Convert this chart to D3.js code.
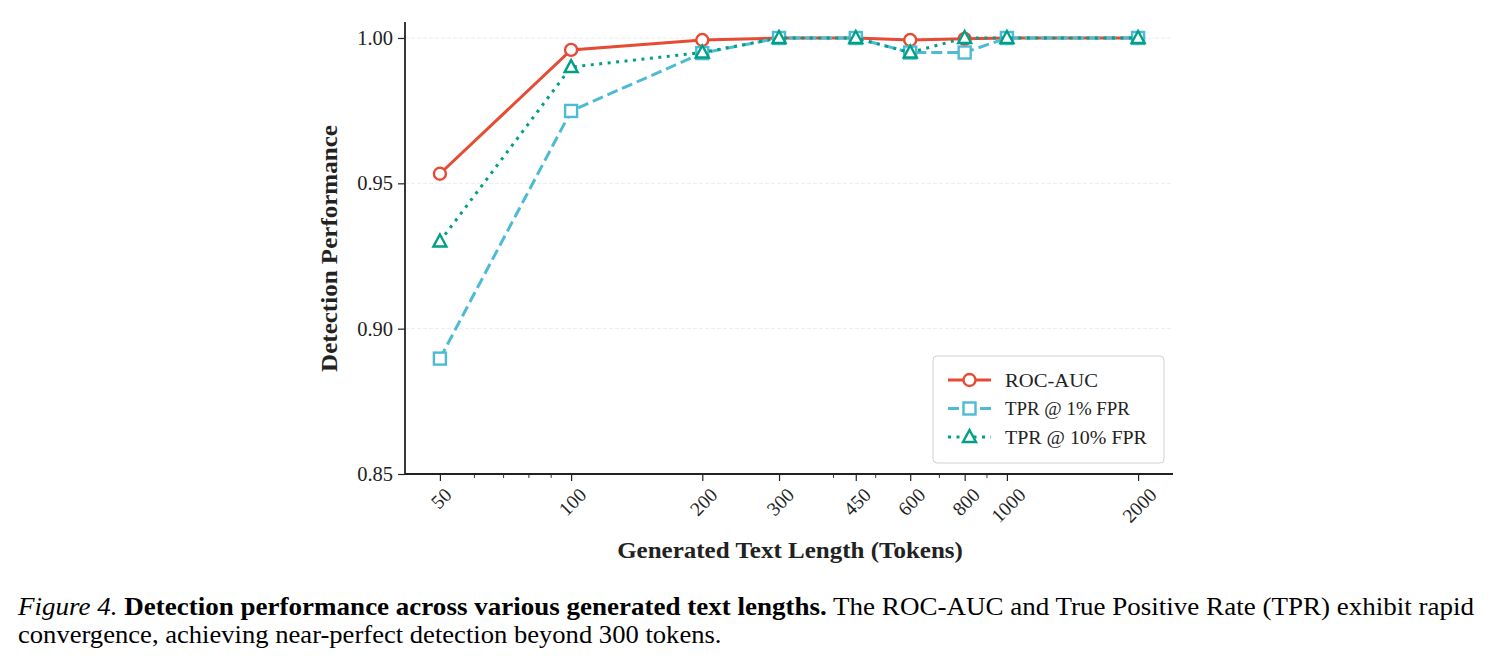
<!DOCTYPE html>
<html>
<head>
<meta charset="utf-8">
<script src="https://cdn.jsdelivr.net/npm/d3@7"></script>
<style>
  body { margin: 0; background: #fff; }
  svg { display: block; font-family: "Liberation Serif", "Times New Roman", serif; }
</style>
</head>
<body>
<script>
const width = 1491,
  height = 667;

// data
const lengths = [50, 100, 200, 300, 450, 600, 800, 1000, 2000];
const rocAuc = [0.9533, 0.9959, 0.9993, 1.0, 1.0, 0.9993, 0.9997, 1.0, 1.0];
const tpr1 = [0.8897, 0.9749, 0.9948, 1.0, 1.0, 0.995, 0.995, 1.0, 1.0];
const tpr10 = [0.930, 0.990, 0.995, 1.0, 1.0, 0.995, 1.0, 1.0, 1.0];
const yTicks = [0.85, 0.90, 0.95, 1.00];
const minorTicks = [60, 70, 80, 90, 400, 500, 700, 900];

const series = [
  { name: "ROC-AUC", values: rocAuc, color: "#E64B35", dash: null, marker: "circle" },
  { name: "TPR @ 1% FPR", values: tpr1, color: "#4DBBD5", dash: "11,5", marker: "square" },
  { name: "TPR @ 10% FPR", values: tpr10, color: "#00A087", dash: "3,5.5", marker: "triangle" }
];

const plot = { left: 405, right: 1173, top: 22, bottom: 474 };

// log x with matplotlib-like 5% margins in log space
const lo = Math.log10(50), hi = Math.log10(2000), pad = (hi - lo) * 0.05;
const x = d3.scaleLog()
  .domain([Math.pow(10, lo - pad), Math.pow(10, hi + pad)])
  .range([plot.left, plot.right]);
const y = d3.scaleLinear()
  .domain([0.85, 1.0055])
  .range([plot.bottom, plot.top]);

const svg = d3.select("body").append("svg")
  .attr("width", width)
  .attr("height", height);

svg.append("rect").attr("width", width).attr("height", height).attr("fill", "#fff");

// squeeze/stretch a text horizontally so it spans the wanted width
function fitWidth(sel, w, anchorX) {
  const n = sel.node();
  const len = n.getComputedTextLength();
  const sx = w / len;
  sel.attr("transform", `translate(${anchorX},0) scale(${sx},1) translate(${-anchorX},0)`);
}

// grid
svg.append("g")
  .selectAll("line")
  .data(yTicks)
  .join("line")
  .attr("x1", plot.left).attr("x2", plot.right)
  .attr("y1", d => y(d)).attr("y2", d => y(d))
  .attr("stroke", "#e6e6e6")
  .attr("stroke-width", 0.8)
  .attr("stroke-dasharray", "4,2");

// y axis
const yAxis = svg.append("g")
  .attr("transform", `translate(${plot.left},0)`)
  .call(d3.axisLeft(y).tickValues(yTicks).tickFormat(d3.format(".2f")).tickSize(7).tickPadding(5));
yAxis.select(".domain").attr("stroke", "#222").attr("stroke-width", 1.8)
  .attr("d", `M0,${plot.top}V${plot.bottom}`);
yAxis.selectAll(".tick line").attr("stroke", "#222").attr("stroke-width", 1.2);
yAxis.selectAll(".tick text")
  .attr("font-family", "Liberation Serif")
  .attr("font-size", 20.5)
  .attr("fill", "#222");

// x axis
const xAxis = svg.append("g")
  .attr("transform", `translate(0,${plot.bottom})`)
  .call(d3.axisBottom(x).tickValues(lengths).tickFormat(d => d).tickSize(7));
xAxis.select(".domain").attr("stroke", "#222").attr("stroke-width", 1.8)
  .attr("d", `M${plot.left},0H${plot.right}`);
xAxis.selectAll(".tick line").attr("stroke", "#222").attr("stroke-width", 1.2);
xAxis.selectAll(".tick text")
  .attr("font-family", "Liberation Serif")
  .attr("font-size", 19.5)
  .attr("fill", "#222")
  .attr("text-anchor", "middle")
  .attr("dy", null)
  .attr("dominant-baseline", "central")
  .each(function () {
    const t = d3.select(this);
    const w = this.getComputedTextLength();
    const cy = 13 + (w + 13) * 0.3536;
    t.attr("y", null).attr("transform", `translate(1,${cy}) rotate(-45)`);
  });

// minor ticks
svg.append("g")
  .selectAll("line")
  .data(minorTicks)
  .join("line")
  .attr("x1", d => x(d)).attr("x2", d => x(d))
  .attr("y1", plot.bottom).attr("y2", plot.bottom + 4)
  .attr("stroke", "#222")
  .attr("stroke-width", 0.9);

// axis labels
const xLab = svg.append("text")
  .attr("x", 790)
  .attr("y", 558)
  .attr("text-anchor", "middle")
  .attr("font-weight", "bold")
  .attr("font-size", 24)
  .attr("fill", "#222")
  .text("Generated Text Length (Tokens)");
fitWidth(xLab, 346, 790);

const yLab = svg.append("g")
  .attr("transform", `translate(337,248.5) rotate(-90)`)
  .append("text")
  .attr("x", 0)
  .attr("text-anchor", "middle")
  .attr("font-weight", "bold")
  .attr("font-size", 24)
  .attr("fill", "#222")
  .text("Detection Performance");
fitWidth(yLab, 247, 0);

// marker drawing
function drawMarker(g, type, color) {
  if (type === "circle") {
    g.append("circle").attr("r", 6).attr("fill", "#fff").attr("stroke", color).attr("stroke-width", 2.4);
  } else if (type === "square") {
    g.append("rect").attr("x", -6).attr("y", -6).attr("width", 12).attr("height", 12)
      .attr("fill", "#fff").attr("stroke", color).attr("stroke-width", 2.4);
  } else {
    g.append("path").attr("d", "M0,-7L6.5,5L-6.5,5Z")
      .attr("fill", "#fff").attr("stroke", color).attr("stroke-width", 2.4)
      .attr("stroke-linejoin", "miter");
  }
}

const line = d3.line()
  .x(d => x(d[0]))
  .y(d => y(d[1]));

series.forEach(s => {
  const pts = lengths.map((l, i) => [l, s.values[i]]);
  const g = svg.append("g");
  g.append("path")
    .datum(pts)
    .attr("d", line)
    .attr("fill", "none")
    .attr("stroke", s.color)
    .attr("stroke-width", 3)
    .attr("stroke-dasharray", s.dash);
  pts.forEach(p => {
    const m = g.append("g").attr("transform", `translate(${x(p[0])},${y(p[1])})`);
    drawMarker(m, s.marker, s.color);
  });
});

// legend
const legend = svg.append("g").attr("transform", "translate(933,356)");
legend.append("rect")
  .attr("width", 231).attr("height", 107)
  .attr("rx", 4)
  .attr("fill", "#fff")
  .attr("stroke", "#d0d0d0")
  .attr("stroke-width", 1);
const legendWidths = [93, 125, 142];
series.forEach((s, i) => {
  const row = legend.append("g").attr("transform", `translate(0,${24 + i * 28.5})`);
  row.append("line")
    .attr("x1", 15).attr("x2", 58)
    .attr("stroke", s.color).attr("stroke-width", 3)
    .attr("stroke-dasharray", s.dash);
  const m = row.append("g").attr("transform", "translate(36.5,0)");
  drawMarker(m, s.marker, s.color);
  const t = row.append("text")
    .attr("x", 72).attr("y", 0)
    .attr("dominant-baseline", "central")
    .attr("font-size", 19.5)
    .attr("fill", "#222")
    .text(s.name);
  fitWidth(t, legendWidths[i], 72);
});

// caption
const cap1 = svg.append("text").attr("x", 18).attr("y", 615).attr("font-size", 24.5).attr("fill", "#000");
cap1.append("tspan").attr("font-style", "italic").text("Figure 4.");
cap1.append("tspan").attr("font-weight", "bold").text(" Detection performance across various generated text lengths.");
cap1.append("tspan").text(" The ROC-AUC and True Positive Rate (TPR) exhibit rapid");
fitWidth(cap1, 1457, 18);
const cap2 = svg.append("text").attr("x", 18).attr("y", 643).attr("font-size", 24.5).attr("fill", "#000")
  .text("convergence, achieving near-perfect detection beyond 300 tokens.");
fitWidth(cap2, 704, 18);
</script>
</body>
</html>
